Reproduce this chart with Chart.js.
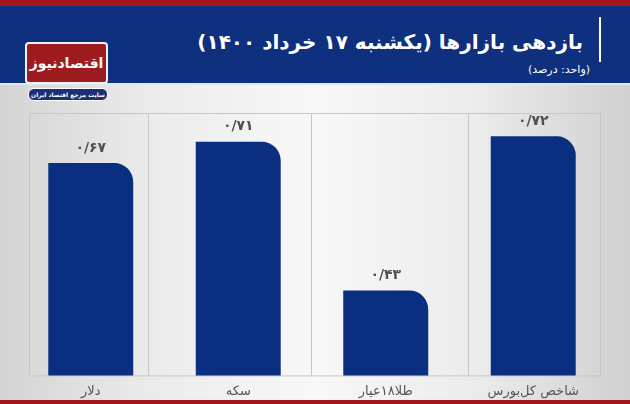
<!DOCTYPE html>
<html lang="fa">
<head>
<meta charset="utf-8">
<script src="https://cdn.jsdelivr.net/npm/chart.js@4"></script>
<style>
  html, body { margin: 0; padding: 0; }
  body {
    width: 630px; height: 404px; position: relative; overflow: hidden;
    font-family: "DejaVu Sans", sans-serif;
    background: linear-gradient(to right, #d4d4d4 0%, #ececec 25%, #f8f8f8 50%, #ececec 75%, #d0d0d0 100%);
  }
  .topbar { position: absolute; left: 0; top: 0; width: 630px; height: 6px; background: #a3161b; }
  .header { position: absolute; left: 0; top: 6px; width: 630px; height: 77px; background: #0f2f7f; border-bottom: 2px solid #e4e6ee; }
  .bottombar { position: absolute; left: 0; top: 400px; width: 630px; height: 4px; background: #a3161b; }
  .vline { position: absolute; left: 599px; top: 17px; width: 2px; height: 45px; background: #fff; }
  .title { position: absolute; right: 47px; top: 30px; color: #fff; font-weight: bold; font-size: 20px; direction: rtl; white-space: nowrap; }
  .subtitle { position: absolute; right: 40px; top: 63px; color: #fff; font-size: 11px; direction: rtl; white-space: nowrap; }
  .logo { position: absolute; left: 25px; top: 42px; width: 79px; height: 38px; background: #9e1b1f; border: 2px solid #f2f2f2; border-radius: 4px;
    color: #fff; font-weight: bold; font-size: 14px; text-align: center; line-height: 38px; direction: rtl; white-space: nowrap; overflow: hidden; }
  .pill { position: absolute; left: 28px; top: 88px; width: 78px; height: 11px; background: #1b2f72; border: 1px solid #fff; border-radius: 6px;
    color: #fff; font-size: 6px; font-weight: bold; text-align: center; line-height: 11px; direction: rtl; white-space: nowrap; overflow: hidden; }
  #wrap { position: absolute; left: 0; top: 0; width: 630px; height: 404px; }
</style>
</head>
<body>
<div class="topbar"></div>
<div class="header"></div>
<div class="vline"></div>
<div class="title">بازدهی بازارها (یکشنبه ۱۷ خرداد ۱۴۰۰)</div>
<div class="subtitle">(واحد: درصد)</div>
<div class="logo">اقتصادنیوز</div>
<div class="pill">سایت مرجع اقتصاد ایران</div>
<div class="bottombar"></div>
<div id="wrap"><canvas id="myBarChart"></canvas></div>
<script>
// data
const categories = ['دلار', 'سکه', 'طلا۱۸عیار', 'شاخص کل‌بورس'];
const values = [0.67, 0.71, 0.43, 0.72];
const valueLabels = ['۰/۶۷', '۰/۷۱', '۰/۴۳', '۰/۷۲'];

// panel dividers, in category units
const dividers = [-0.417, 0.39, 1.495, 2.56, 3.45];

const boxPlugin = {
    id: 'box',
    beforeDatasetsDraw(chart) {
        const ctx = chart.ctx;
        const xs = chart.scales.x;
        const top = chart.chartArea.top;
        const bottom = chart.chartArea.bottom;
        const px = dividers.map(d => Math.round(xs.getPixelForValue(d)) + 0.5);
        ctx.save();
        ctx.strokeStyle = '#c6c6c6';
        ctx.lineWidth = 1;
        ctx.beginPath();
        ctx.moveTo(px[0], top + 0.5);
        ctx.lineTo(px[px.length - 1], top + 0.5);
        ctx.moveTo(px[0], bottom + 0.5);
        ctx.lineTo(px[px.length - 1], bottom + 0.5);
        px.forEach(x => {
            ctx.moveTo(x, top);
            ctx.lineTo(x, bottom);
        });
        ctx.stroke();
        ctx.restore();
    }
};

const labelPlugin = {
    id: 'valueLabels',
    afterDatasetsDraw(chart) {
        const ctx = chart.ctx;
        const meta = chart.getDatasetMeta(0);
        ctx.save();
        ctx.fillStyle = '#505050';
        ctx.font = 'bold 14px "DejaVu Sans"';
        ctx.textAlign = 'center';
        ctx.textBaseline = 'middle';
        meta.data.forEach((bar, i) => {
            ctx.fillText(valueLabels[i], bar.x, bar.y - 15);
        });
        ctx.restore();
    }
};

const ctx = document.getElementById('myBarChart').getContext('2d');

const config = {
    type: 'bar',
    data: {
        labels: categories,
        datasets: [{
            data: values,
            backgroundColor: '#0b2f80',
            borderRadius: { topLeft: 0, topRight: 19, bottomLeft: 0, bottomRight: 0 },
            borderSkipped: 'bottom',
            categoryPercentage: 1,
            barPercentage: 0.576
        }]
    },
    options: {
        responsive: true,
        maintainAspectRatio: false,
        animation: false,
        layout: {
            padding: { top: 113, left: 17, right: 23, bottom: 5 }
        },
        scales: {
            x: {
                grid: { display: false },
                border: { display: false },
                ticks: {
                    color: '#555',
                    font: { family: 'DejaVu Sans', size: 13 },
                    padding: 0
                }
            },
            y: {
                display: false,
                min: 0.27,
                max: 0.764
            }
        },
        plugins: {
            legend: { display: false },
            tooltip: { enabled: false }
        }
    },
    plugins: [boxPlugin, labelPlugin]
};

new Chart(ctx, config);
</script>
</body>
</html>
